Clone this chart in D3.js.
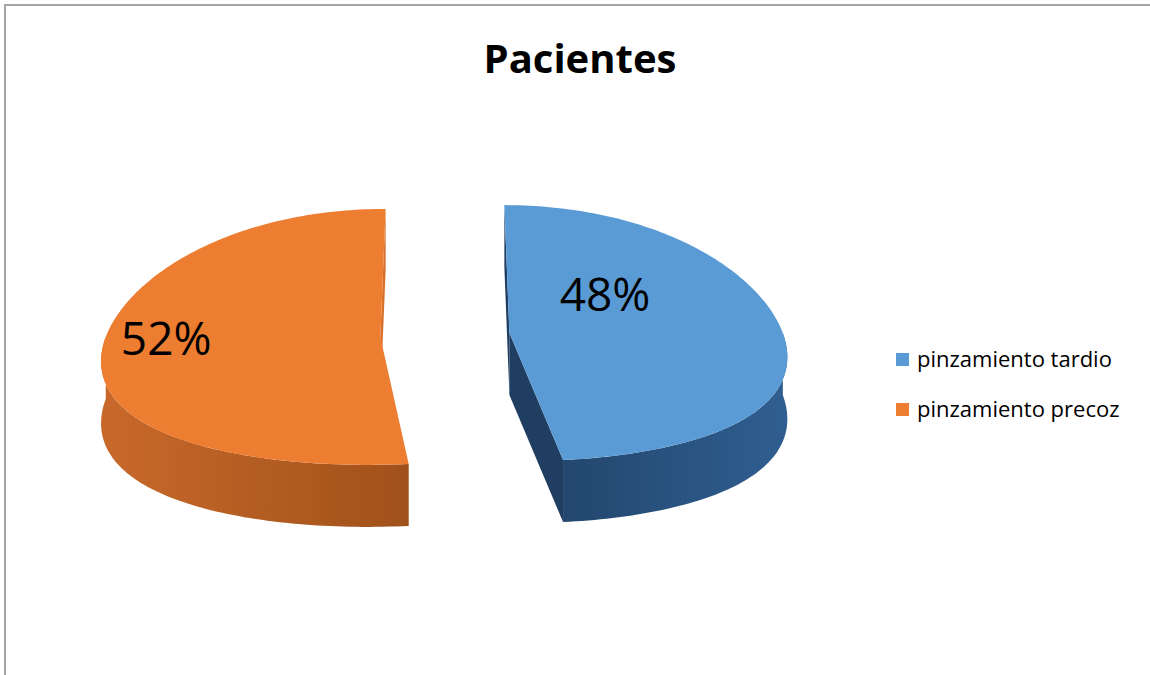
<!DOCTYPE html>
<html>
<head>
<meta charset="utf-8">
<script src="https://cdn.jsdelivr.net/npm/d3@7"></script>
<style>
body { margin: 0; background: #fff; }
text { font-family: "Open Sans", Lato, sans-serif; }
</style>
</head>
<body>
<script>
// data
var categories = ["pinzamiento tardio", "pinzamiento precoz"];
var values = [48, 52];
var topColors = ["#5b9bd5", "#ed7d31"];
var sideColors = [["#23476e", "#2f5e90"], ["#c8692a", "#a0511a"]];
var cutColors = ["#1f3e61", "#d9702a"];

var width = 1150, height = 675;
var svg = d3.select("body").append("svg").attr("width", width).attr("height", height);
var defs = svg.append("defs");

// chart frame
svg.append("rect")
    .attr("x", 5).attr("y", 5)
    .attr("width", 1160).attr("height", 700)
    .attr("fill", "none").attr("stroke", "#a6a6a6").attr("stroke-width", 2);

svg.append("text")
    .attr("x", 580).attr("y", 73)
    .attr("text-anchor", "middle")
    .attr("font-weight", "bold").attr("font-size", 40)
    .text("Pacientes");

// 3d pie projection
var cx = 445, cy = 335, rx = 274, ry = 128, depth = 62, explode = 0.236;
function persp(v) { return 1 + 0.14 * v + 0.06 * v * v; } //near side looks wider
function proj(u, v, z) { return [cx + rx * u * persp(v), cy + ry * v + z]; }

function rim(a0, a1, ox, oy, z) {
    var n = Math.max(2, Math.ceil(Math.abs(a1 - a0) / 0.02));
    return d3.range(n + 1).map(function(i) {
        var a = a0 + (a1 - a0) * i / n;
        return proj(ox + Math.sin(a), oy - Math.cos(a), z);
    });
}
function area(pts) {
    var s = 0;
    for (var i = 0; i < pts.length; i++) {
        var p = pts[i], q = pts[(i + 1) % pts.length];
        s += p[0] * q[1] - q[0] * p[1];
    }
    return s;
}
var line = d3.line();

var arcs = d3.pie().sort(null)(values);

arcs.forEach(function(d, i) {
    var mid = (d.startAngle + d.endAngle) / 2;
    var ox = explode * Math.sin(mid), oy = -explode * Math.cos(mid);
    var g = svg.append("g").attr("class", "slice" + i);
    var c0 = proj(ox, oy, 0), c1 = proj(ox, oy, depth);

    // cut faces along the two radii, drawn only when facing the viewer
    [[d.startAngle, -1], [d.endAngle, 1]].forEach(function(e) {
        var r0 = proj(ox + Math.sin(e[0]), oy - Math.cos(e[0]), 0);
        var r1 = proj(ox + Math.sin(e[0]), oy - Math.cos(e[0]), depth);
        var quad = [c0, r0, r1, c1];
        if (area(quad) * e[1] > 0) {
            g.append("path").attr("d", line(quad) + "Z").attr("fill", cutColors[i]);
        }
    });

    // outer wall, only the near half is seen
    var lo = Math.max(d.startAngle, Math.PI / 2), hi = Math.min(d.endAngle, 3 * Math.PI / 2);
    if (lo < hi) {
        var wall = rim(lo, hi, ox, oy, 0).concat(rim(hi, lo, ox, oy, depth));
        var xs = d3.extent(wall, function(p) { return p[0]; });
        var grad = defs.append("linearGradient").attr("id", "side" + i)
            .attr("gradientUnits", "userSpaceOnUse")
            .attr("x1", xs[0]).attr("x2", xs[1]).attr("y1", 0).attr("y2", 0);
        grad.append("stop").attr("offset", "0%").attr("stop-color", sideColors[i][0]);
        grad.append("stop").attr("offset", "100%").attr("stop-color", sideColors[i][1]);
        g.append("path").attr("d", line(wall) + "Z").attr("fill", "url(#side" + i + ")");
    }

    // top face
    var top = [c0].concat(rim(d.startAngle, d.endAngle, ox, oy, 0));
    g.append("path").attr("d", line(top) + "Z").attr("fill", topColors[i]);
});

// percent labels
var labelSpot = [[0.486, 50], [0.78, 270]];
var total = d3.sum(values);
arcs.forEach(function(d, i) {
    var mid = (d.startAngle + d.endAngle) / 2;
    var ox = explode * Math.sin(mid), oy = -explode * Math.cos(mid);
    var a = labelSpot[i][1] * Math.PI / 180, r = labelSpot[i][0];
    var p = proj(ox + r * Math.sin(a), oy - r * Math.cos(a), 0);
    svg.append("text")
        .attr("x", p[0]).attr("y", p[1])
        .attr("text-anchor", "middle").attr("dominant-baseline", "central")
        .attr("font-size", 46).attr("fill", "#000")
        .text(Math.round(d.value / total * 100) + "%");
});

// legend
var legend = svg.append("g").attr("transform", "translate(896,0)");
var rows = legend.selectAll("g").data(categories).enter().append("g")
    .attr("transform", function(d, i) { return "translate(0," + (353 + i * 50) + ")"; });
rows.append("rect").attr("width", 13).attr("height", 13)
    .attr("fill", function(d, i) { return topColors[i]; });
rows.append("text").attr("x", 21).attr("y", 14)
    .attr("font-size", 22).attr("fill", "#000")
    .text(function(d) { return d; });
</script>
</body>
</html>
